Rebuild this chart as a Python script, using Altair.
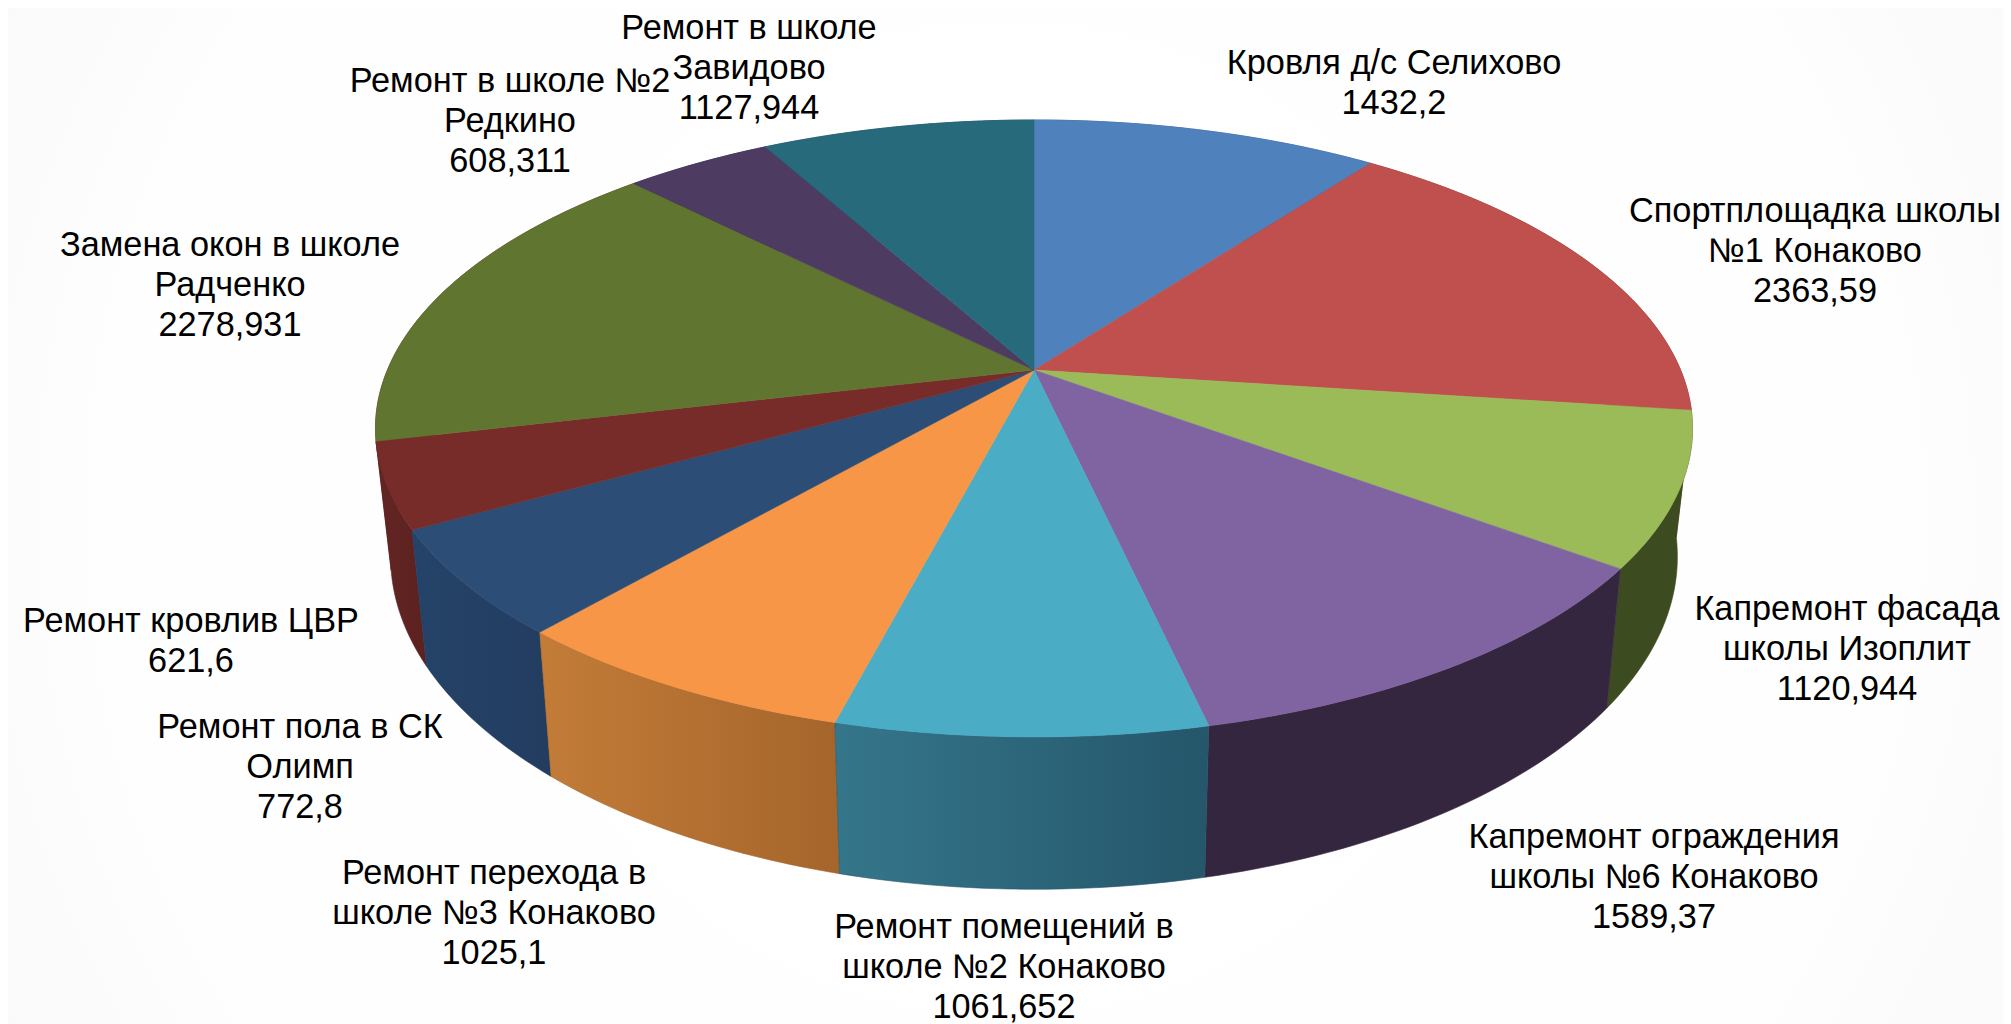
import math
import altair as alt
import pandas as pd

NAMES = ["Кровля д/с Селихово", "Спортплощадка школы\n№1 Конаково", "Капремонт фасада\nшколы Изоплит",
         "Капремонт ограждения\nшколы №6 Конаково", "Ремонт помещений в\nшколе №2 Конаково",
         "Ремонт перехода в\nшколе №3 Конаково", "Ремонт пола в СК\nОлимп", "Ремонт кровлив ЦВР",
         "Замена окон в школе\nРадченко", "Ремонт в школе №2\nРедкино", "Ремонт в школе\nЗавидово"]
VALUES = [1432.2, 2363.59, 1120.944, 1589.37, 1061.652, 1025.1, 772.8, 621.6, 2278.931, 608.311, 1127.944]
VALUE_TEXT = ["1432,2", "2363,59", "1120,944", "1589,37", "1061,652", "1025,1", "772,8", "621,6",
              "2278,931", "608,311", "1127,944"]
TOP_COLORS = ["#4F81BD", "#C0504D", "#9BBB59", "#8064A2", "#4BACC6", "#F79646",
              "#2C4D75", "#772C2A", "#5F7530", "#4D3B62", "#276A7C"]
SIDE_LEFT = ["#2f4d71", "#73302e", "#3d4c20", "#35263f", "#35768b", "#c37c38",
             "#254268", "#632523", "#632523", "#2e233b", "#173f4a"]
SIDE_RIGHT = ["#2f4d71", "#73302e", "#3d4c20", "#35263f", "#25566a", "#a5652b",
              "#223d60", "#5c2220", "#632523", "#2e233b", "#173f4a"]
# label anchors: horizontal centre and centre of first line, in picture pixels
LABEL_X = [1394, 1815, 1847, 1654, 1004, 494, 300, 191, 230, 510, 749]
LABEL_Y = [62, 210, 608, 836, 926, 872, 726, 620, 244, 80, 27]

W, H = 1995, 1016
CX, CY = 1034, 370      # apex of the pie
R, PERSP, DEPTH_Y = 646.6, 0.1895, 297.4
total = sum(VALUES)


def rim(angle):
    u, v = math.sin(angle), -math.cos(angle)
    s = 1 / (1 - PERSP * v)
    return CX + R * u * s, CY + DEPTH_Y * v * s


def lower(x, y):
    return CX + 0.977 * (x - CX), y + 136 + 0.078 * (y - 528)


def arc_points(a0, a1):
    n = max(2, int((a1 - a0) / math.radians(1)) + 1)
    return [rim(a0 + (a1 - a0) * i / n) for i in range(n + 1)]


x_scale = alt.Scale(domain=[8, 8 + W], range=[0, W], nice=False, zero=False)
y_scale = alt.Scale(domain=[8, 8 + H], range=[0, H], nice=False, zero=False)


def polygon(points, fill, stroke):
    df = pd.DataFrame([{"px": p[0], "py": p[1], "i": i} for i, p in enumerate(points)])
    return alt.Chart(df).mark_line(
        interpolate="linear-closed", fill=fill, stroke=stroke, strokeWidth=0.6
    ).encode(
        x=alt.X("px:Q", scale=x_scale, axis=None),
        y=alt.Y("py:Q", scale=y_scale, axis=None),
        order=alt.Order("i:Q"),
    )


walls, faces = [], []
start = 0.0
for k, val in enumerate(VALUES):
    end = start + val / total * 2 * math.pi
    arc = arc_points(start, end)
    low = [lower(*p) for p in arc][::-1]
    grad = alt.LinearGradient(
        gradient="linear", x1=0, x2=1, y1=0, y2=0,
        stops=[alt.GradientStop(color=SIDE_LEFT[k], offset=0),
               alt.GradientStop(color=SIDE_RIGHT[k], offset=1)],
    )
    # walls nearer the viewer are painted later
    depth = max(p[1] for p in arc)
    walls.append((depth, polygon(arc + low, grad, SIDE_RIGHT[k])))
    faces.append(polygon([(CX, CY)] + arc, TOP_COLORS[k], TOP_COLORS[k]))
    start = end
walls = [w for _, w in sorted(walls, key=lambda t: t[0])]

background = alt.Chart(pd.DataFrame({"a": [0]})).mark_rect(
    fill=alt.RadialGradient(
        gradient="radial", r1=0, r2=0.75, x1=0.5, x2=0.5, y1=0.5, y2=0.5,
        stops=[alt.GradientStop(color="#ffffff", offset=0),
               alt.GradientStop(color="#fefefe", offset=0.6),
               alt.GradientStop(color="#f3f3f3", offset=1)],
    )
).encode(x=alt.value(0), x2=alt.value(W), y=alt.value(0), y2=alt.value(H))

labels = pd.DataFrame({
    "lx": LABEL_X,
    "ly": [y - 15 for y in LABEL_Y],
    "txt": [n + "\n" + v for n, v in zip(NAMES, VALUE_TEXT)],
})
text = alt.Chart(labels).mark_text(
    font="Liberation Sans", fontSize=34.3, color="#000000", align="center",
    baseline="top", lineBreak="\n", lineHeight=39.8,
).encode(
    x=alt.X("lx:Q", scale=x_scale, axis=None),
    y=alt.Y("ly:Q", scale=y_scale, axis=None),
    text="txt:N",
)

chart = alt.layer(background, *walls, *faces, text).properties(
    width=W, height=H, padding=0, autosize=alt.AutoSizeParams(type="none"),
).configure_view(stroke=None).configure(background="#ffffff")

chart.save("out.html", embed_options={"renderer": "svg", "actions": False})
